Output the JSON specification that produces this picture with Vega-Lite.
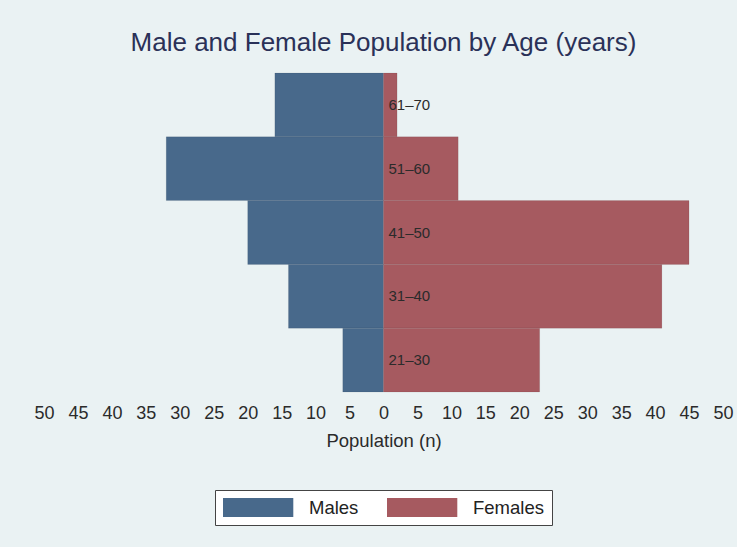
{
  "$schema": "https://vega.github.io/schema/vega-lite/v6.json",
  "autosize": "none",
  "width": 679,
  "height": 319,
  "padding": {"left": 44, "top": 73, "right": 14, "bottom": 155},
  "background": "#EAF2F3",
  "title": {
    "text": "Male and Female Population by Age (years)",
    "anchor": "middle",
    "frame": "group",
    "baseline": "bottom",
    "offset": -9,
    "font": "Liberation Sans",
    "fontSize": 26,
    "fontWeight": "normal",
    "color": "#2A3158"
  },
  "data": {
    "values": [
      {"age": "61–70", "sex": "Males", "population": -16},
      {"age": "51–60", "sex": "Males", "population": -32},
      {"age": "41–50", "sex": "Males", "population": -20},
      {"age": "31–40", "sex": "Males", "population": -14},
      {"age": "21–30", "sex": "Males", "population": -6},
      {"age": "61–70", "sex": "Females", "population": 2},
      {"age": "51–60", "sex": "Females", "population": 11},
      {"age": "41–50", "sex": "Females", "population": 45},
      {"age": "31–40", "sex": "Females", "population": 41},
      {"age": "21–30", "sex": "Females", "population": 23}
    ]
  },
  "encoding": {
    "y": {
      "field": "age",
      "type": "nominal",
      "sort": ["61–70", "51–60", "41–50", "31–40", "21–30"],
      "scale": {"paddingInner": 0, "paddingOuter": 0},
      "axis": null
    }
  },
  "layer": [
    {
      "mark": {"type": "bar", "stroke": "#000000", "strokeOpacity": 0.12, "strokeWidth": 0.6},
      "encoding": {
        "x": {
          "field": "population",
          "type": "quantitative",
          "scale": {"domain": [-50, 50], "nice": false, "zero": true},
          "axis": {
            "title": "Population (n)",
            "values": [-50, -45, -40, -35, -30, -25, -20, -15, -10, -5, 0, 5, 10, 15, 20, 25, 30, 35, 40, 45, 50],
            "labelExpr": "abs(datum.value)",
            "labelOverlap": false,
            "domain": false,
            "ticks": false,
            "grid": false,
            "labelPadding": 12,
            "labelFont": "Liberation Sans",
            "labelFontSize": 18,
            "labelColor": "#2b2b2b",
            "labelFlush": false,
            "titleFont": "Liberation Sans",
            "titleFontSize": 18.5,
            "titleFontWeight": "normal",
            "titleColor": "#2b2b2b",
            "titlePadding": 9
          }
        },
        "color": {
          "field": "sex",
          "type": "nominal",
          "scale": {"domain": ["Males", "Females"], "range": ["#48698B", "#A65A60"]},
          "legend": {
            "title": null,
            "orient": "bottom",
            "direction": "horizontal",
            "offset": 40,
            "symbolType": "M-1,-1H6.4V1H-1Z",
            "symbolSize": 361,
            "symbolStrokeWidth": 0,
            "symbolOpacity": 1,
            "labelFont": "Liberation Sans",
            "labelFontSize": 18.5,
            "labelColor": "#222222",
            "labelOffset": 67,
            "columnPadding": 28,
            "gridAlign": "none",
            "padding": 8,
            "strokeColor": "#444444",
            "fillColor": "#FFFFFF"
          }
        }
      }
    },
    {
      "transform": [{"filter": "datum.sex == 'Males'"}],
      "mark": {"type": "text", "align": "left", "dx": 5, "font": "Liberation Sans", "fontSize": 15, "color": "#2b2b2b"},
      "encoding": {
        "x": {
          "datum": 0,
          "type": "quantitative",
          "axis": {
            "title": "Population (n)",
            "values": [-50, -45, -40, -35, -30, -25, -20, -15, -10, -5, 0, 5, 10, 15, 20, 25, 30, 35, 40, 45, 50],
            "labelExpr": "abs(datum.value)",
            "labelOverlap": false,
            "domain": false,
            "ticks": false,
            "grid": false,
            "labelPadding": 12,
            "labelFont": "Liberation Sans",
            "labelFontSize": 18,
            "labelColor": "#2b2b2b",
            "labelFlush": false,
            "titleFont": "Liberation Sans",
            "titleFontSize": 18.5,
            "titleFontWeight": "normal",
            "titleColor": "#2b2b2b",
            "titlePadding": 9
          }
        },
        "text": {"field": "age"}
      }
    }
  ],
  "config": {
    "view": {"stroke": null},
    "legend": {"layout": {"bottom": {"anchor": "middle"}}}
  }
}
